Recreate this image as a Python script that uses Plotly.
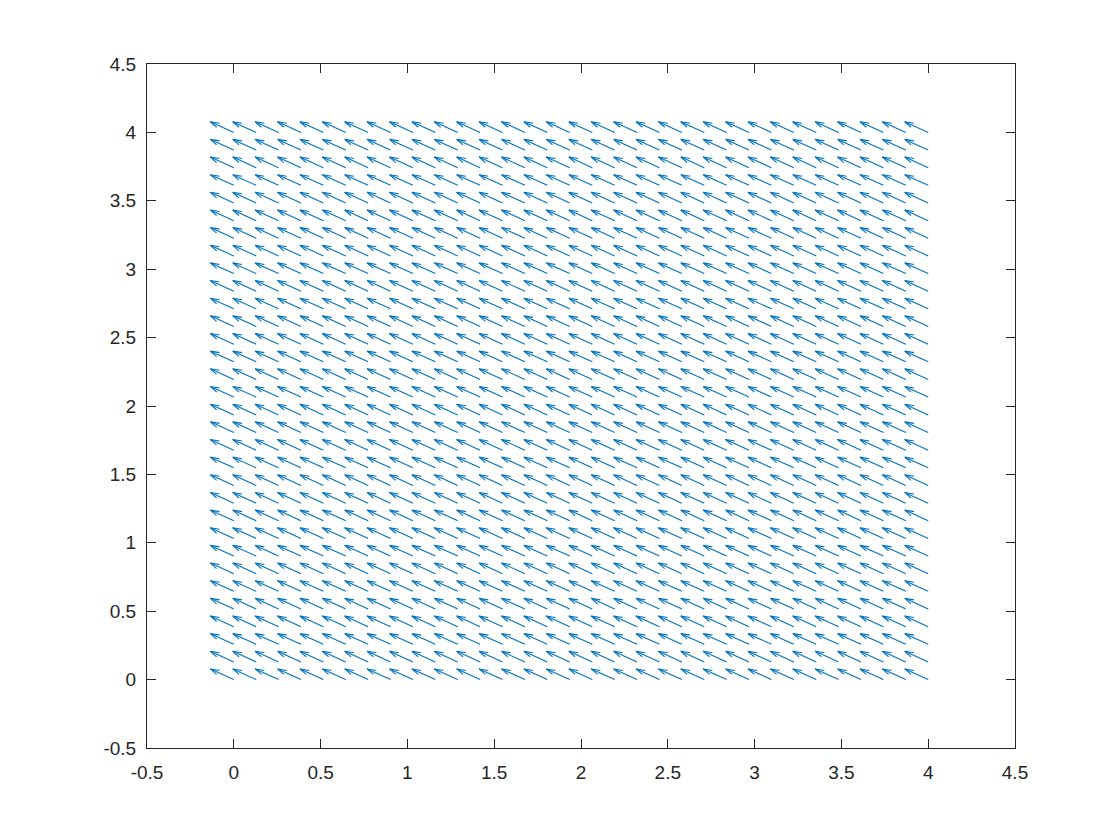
import numpy as np
import plotly.graph_objects as go

# grid of arrow tails (32 x 32 points from 0 to 4)
x_grid = [0.000, 0.129, 0.258, 0.387, 0.516, 0.645, 0.774, 0.903, 1.032, 1.161,
          1.290, 1.419, 1.548, 1.677, 1.806, 1.935, 2.065, 2.194, 2.323, 2.452,
          2.581, 2.710, 2.839, 2.968, 3.097, 3.226, 3.355, 3.484, 3.613, 3.742,
          3.871, 4.000]
y_grid = list(x_grid)

# constant vector field (already scaled as drawn)
u_val = -0.135
v_val = 0.078

tick_vals = [-0.5, 0, 0.5, 1, 1.5, 2, 2.5, 3, 3.5, 4, 4.5]
tick_text = ["-0.5", "0", "0.5", "1", "1.5", "2", "2.5", "3", "3.5", "4", "4.5"]

alpha, beta = 0.33, 0.33
sx, sy = [], []
for yy in y_grid:
    for xx in x_grid:
        u, v = u_val, v_val
        # shaft
        sx += [xx, xx + u, None]
        sy += [yy, yy + v, None]
        # arrow head (matlab style)
        sx += [xx + u - alpha * (u + beta * v), xx + u, xx + u - alpha * (u - beta * v), None]
        sy += [yy + v - alpha * (v - beta * u), yy + v, yy + v - alpha * (v + beta * u), None]

fig = go.Figure()
fig.add_trace(go.Scatter(x=sx, y=sy, mode="lines",
                         line=dict(color="#0072BD", width=1.1),
                         hoverinfo="skip", showlegend=False))

axis_style = dict(
    range=[-0.5, 4.5],
    tickvals=tick_vals,
    ticktext=tick_text,
    ticks="inside",
    ticklen=9,
    tickcolor="#262626",
    showline=True,
    linecolor="#262626",
    linewidth=1,
    mirror="ticks",
    showgrid=False,
    zeroline=False,
    tickfont=dict(family="Liberation Sans, Arial", size=19, color="#262626"),
)

fig.update_layout(
    width=1120,
    height=840,
    margin=dict(l=139, r=113, t=56, b=100),
    plot_bgcolor="white",
    paper_bgcolor="white",
    xaxis=dict(**axis_style, ticklabelstandoff=7),
    yaxis=dict(**axis_style, ticklabelstandoff=6),
)

fig.write_html("out.html")
